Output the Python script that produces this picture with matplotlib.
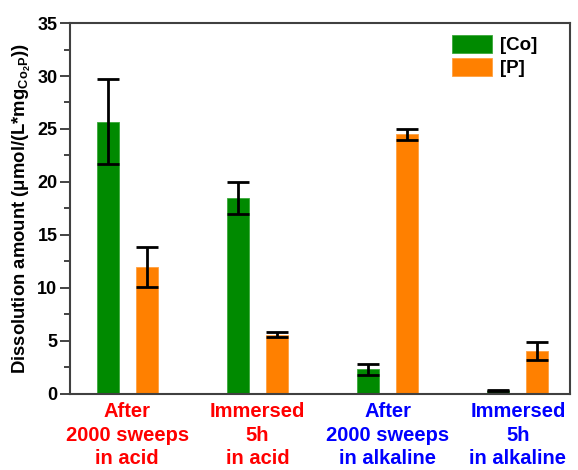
import matplotlib
matplotlib.use("Agg")
import matplotlib.pyplot as plt
import numpy as np
from matplotlib.ticker import MultipleLocator

categories = ["After\n2000 sweeps\nin acid", "Immersed\n5h\nin acid",
              "After\n2000 sweeps\nin alkaline", "Immersed\n5h\nin alkaline"]
label_colors = ["#ff0000", "#ff0000", "#0000ff", "#0000ff"]
co_vals = [25.7, 18.45, 2.3, 0.3]
co_err = [4.0, 1.5, 0.5, 0.05]
p_vals = [12.0, 5.6, 24.5, 4.0]
p_err = [1.9, 0.25, 0.5, 0.85]

plt.rcParams['font.family'] = ['Liberation Sans', 'DejaVu Sans']
plt.rcParams['font.weight'] = 'bold'
plt.rcParams['mathtext.fontset'] = 'custom'
plt.rcParams['mathtext.rm'] = 'Liberation Sans:bold'
plt.rcParams['mathtext.it'] = 'Liberation Sans:bold'
plt.rcParams['mathtext.bf'] = 'Liberation Sans:bold'
plt.rcParams['mathtext.default'] = 'rm'

fig = plt.figure(figsize=(5.78, 4.70), dpi=100)
ax = fig.add_axes([0.121, 0.162, 0.865, 0.789])

x = np.arange(len(categories))
w = 0.17
off = 0.15
green = "#008a00"
orange = "#ff8000"
ekw = dict(elinewidth=2, capthick=2, ecolor='black')
ax.bar(x - off, co_vals, w, color=green, edgecolor="#3aa83a", linewidth=0.6,
       yerr=co_err, capsize=8, error_kw=ekw, label='[Co]')
ax.bar(x + off, p_vals, w, color=orange, edgecolor="#ffa040", linewidth=0.6,
       yerr=p_err, capsize=8, error_kw=ekw, label='[P]')

ax.set_xlim(-0.44, 3.40)
ax.set_ylim(0, 35)
ax.yaxis.set_major_locator(MultipleLocator(5))
ax.yaxis.set_minor_locator(MultipleLocator(2.5))
ax.tick_params(axis='y', which='major', direction='out', length=7, width=1.2,
               labelsize=13, colors='#222222', pad=2)
ax.tick_params(axis='y', which='minor', direction='out', length=4, width=1.2, colors='#222222')
ax.tick_params(axis='x', length=0, pad=6)
ax.set_xticks(x)
ax.set_xticklabels(categories, fontsize=14.5, fontweight='bold', linespacing=1.3)
for t, c in zip(ax.get_xticklabels(), label_colors):
    t.set_color(c)
for t in ax.get_yticklabels():
    t.set_color('black')
for s in ax.spines.values():
    s.set_linewidth(1.5)
    s.set_color('#404040')

ax.set_ylabel("Dissolution amount (μmol/(L*mg$_{Co_2P}$))", fontsize=13.3,
              fontweight='bold', labelpad=3)

ax.legend(loc='upper left', bbox_to_anchor=(0.765, 0.967), frameon=False,
          handlelength=2.1, handleheight=1.05, handletextpad=0.45,
          labelspacing=0.2, borderaxespad=0, borderpad=0,
          prop={'weight': 'bold', 'size': 13.5})

fig.savefig("out.png", dpi=100)
